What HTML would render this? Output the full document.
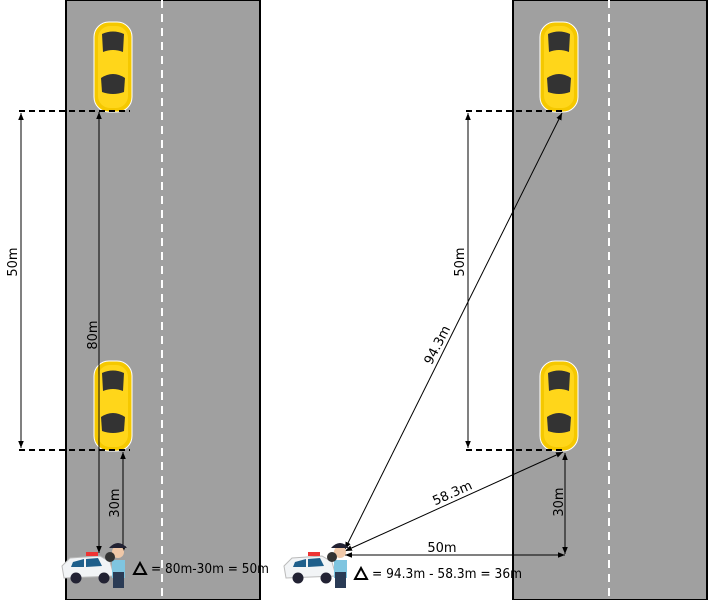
<!DOCTYPE html>
<html><head><style>body{margin:0;background:#fff}svg{display:block}text{font-family:"DejaVu Sans","Liberation Sans",sans-serif;font-size:13px;fill:#000}</style></head>
<body>
<svg width="722" height="600" viewBox="0 0 722 600" xmlns="http://www.w3.org/2000/svg">
<defs>
<marker id="a" viewBox="0 0 10 10" refX="10" refY="5" markerWidth="7" markerHeight="7" orient="auto-start-reverse"><path d="M0,1 L10,5 L0,9 z" fill="#000"/></marker>
<g id="car">
<rect x="0" y="0" width="38" height="90" rx="15" fill="#f5c800" stroke="#fff" stroke-width="1"/>
<rect x="4" y="4" width="30" height="82" rx="12" fill="#ffd61a"/>
<path d="M8,12 Q19,7 30,12 L29,30 Q19,26 9,30 Z" fill="#333"/>
<path d="M7,56 Q19,48 31,56 L30,70 Q19,74 8,70 Z" fill="#333"/>
</g>
<g id="pol">
<path d="M2,24 L10,16 L40,14 L50,20 L54,34 L4,36 Z" fill="#f2f4f6" stroke="#bbb"/>
<path d="M13,20 L24,17 L24,25 L11,25 Z" fill="#1f5f8b"/>
<path d="M26,17 L38,16 L42,24 L26,25 Z" fill="#1f5f8b"/>
<rect x="26" y="10" width="12" height="4" fill="#e33"/>
<circle cx="16" cy="36" r="5.5" fill="#223"/><circle cx="44" cy="36" r="5.5" fill="#223"/>
<rect x="52" y="18" width="13" height="18" fill="#7fc5e0"/>
<rect x="53" y="30" width="11" height="16" fill="#2a3b55"/>
<circle cx="58" cy="10" r="6" fill="#f0c8a8"/>
<path d="M49,6 Q58,-4 67,6 Z" fill="#223"/>
<circle cx="50" cy="15" r="5" fill="#333"/>
</g>
</defs>
<rect x="66" y="0" width="194" height="600" fill="#a0a0a0" stroke="#000" stroke-width="2"/>
<rect x="513" y="0" width="194" height="600" fill="#a0a0a0" stroke="#000" stroke-width="2"/>
<line x1="162" y1="0" x2="162" y2="600" stroke="#fff" stroke-width="2" stroke-dasharray="8,6"/>
<line x1="609" y1="0" x2="609" y2="600" stroke="#fff" stroke-width="2" stroke-dasharray="8,6"/>
<use href="#car" x="94" y="22"/>
<use href="#car" x="94" y="361"/>
<use href="#car" x="540" y="22"/>
<use href="#car" x="540" y="361"/>
<g stroke="#000" stroke-width="2" stroke-dasharray="6,4">
<line x1="19" y1="111" x2="130" y2="111"/><line x1="19" y1="450" x2="130" y2="450"/>
<line x1="466" y1="111" x2="562" y2="111"/><line x1="466" y1="450" x2="566" y2="450"/>
</g>
<g stroke="#000" stroke-width="1" fill="none">
<line x1="21" y1="113" x2="21" y2="448" marker-start="url(#a)" marker-end="url(#a)"/>
<line x1="99" y1="112" x2="99" y2="553" marker-start="url(#a)" marker-end="url(#a)"/>
<line x1="123" y1="452" x2="123" y2="553" marker-start="url(#a)" marker-end="url(#a)"/>
<line x1="468" y1="113" x2="468" y2="448" marker-start="url(#a)" marker-end="url(#a)"/>
<line x1="345" y1="549" x2="562" y2="113" marker-start="url(#a)" marker-end="url(#a)"/>
<line x1="345" y1="551" x2="563" y2="452" marker-start="url(#a)" marker-end="url(#a)"/>
<line x1="345" y1="555" x2="565" y2="555" marker-start="url(#a)" marker-end="url(#a)"/>
<line x1="565" y1="453" x2="565" y2="554" marker-start="url(#a)" marker-end="url(#a)"/>
</g>
<text transform="translate(17,262) rotate(-90)" text-anchor="middle">50m</text>
<text transform="translate(97,335) rotate(-90)" text-anchor="middle">80m</text>
<text transform="translate(119,503) rotate(-90)" text-anchor="middle">30m</text>
<text transform="translate(464,262) rotate(-90)" text-anchor="middle">50m</text>
<text transform="translate(441,347) rotate(-63)" text-anchor="middle">94.3m</text>
<text transform="translate(454,497) rotate(-24)" text-anchor="middle">58.3m</text>
<text x="442" y="552" text-anchor="middle">50m</text>
<text transform="translate(563,502) rotate(-90)" text-anchor="middle">30m</text>
<use href="#pol" x="60" y="542"/>
<use href="#pol" x="282" y="542"/>
<path d="M134,574 L140,563 L146,574 Z" fill="none" stroke="#000" stroke-width="2"/>
<text x="151" y="573" textLength="118" lengthAdjust="spacingAndGlyphs">= 80m-30m = 50m</text>
<path d="M355,579 L361,568 L367,579 Z" fill="none" stroke="#000" stroke-width="2"/>
<text x="372" y="578" textLength="150" lengthAdjust="spacingAndGlyphs">= 94.3m - 58.3m = 36m</text>
</svg>
</body></html>
